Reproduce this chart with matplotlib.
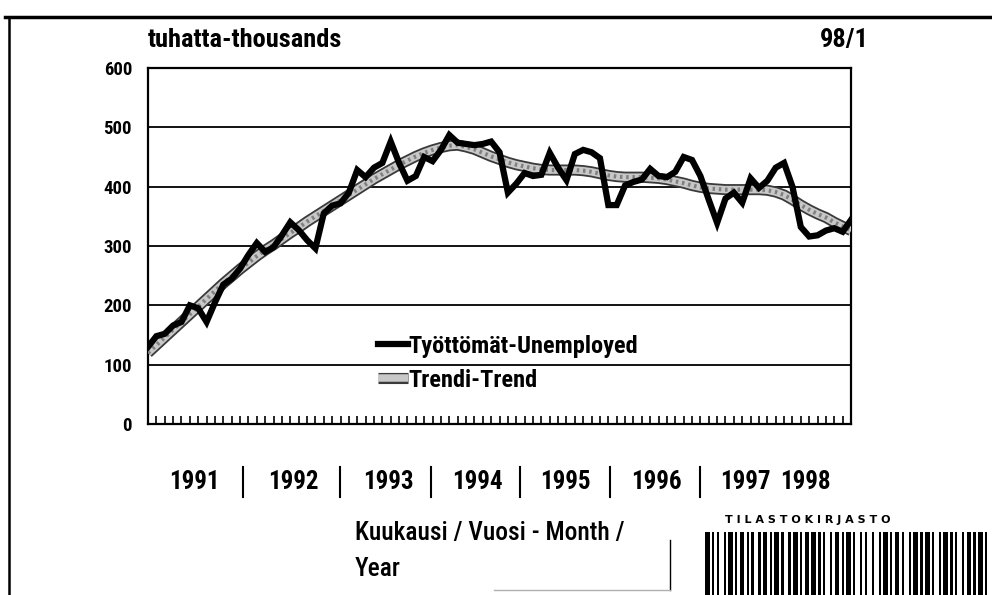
import numpy as np
import matplotlib
matplotlib.use('Agg')
import matplotlib.pyplot as plt
import matplotlib.patheffects as pe
import matplotlib.transforms as mtransforms
from matplotlib.lines import Line2D
from matplotlib import font_manager

# narrow bold face like the scanned print, fall back to DejaVu Sans
have = set(f.name for f in font_manager.fontManager.ttflist)
narrow = None
for name in ['Roboto Condensed', 'Liberation Sans Narrow', 'Archivo Narrow',
             'PT Sans Narrow', 'Open Sans Condensed']:
    if name in have:
        narrow = name
        break
if narrow:
    plt.rcParams['font.family'] = [narrow, 'DejaVu Sans']
    fs = 1.0
else:
    plt.rcParams['font.family'] = ['DejaVu Sans']
    fs = 0.8

# monthly values 1991/01 .. 1998/01, thousands
unemployed = [130, 148, 152, 166, 172, 200, 195, 172, 205, 235, 245, 262,
              285, 305, 290, 298, 318, 340, 327, 310, 296, 355, 368, 372,
              390, 428, 416, 432, 440, 476, 440, 410, 418, 450, 443, 462,
              487, 474, 472, 470, 472, 476, 458, 390, 405, 423, 418, 420,
              457, 432, 411, 455, 462, 458, 448, 369, 369, 402, 408, 412,
              430, 418, 416, 425, 450, 445, 418, 378, 339, 380, 390, 373,
              414, 398, 410, 432, 440, 400, 332, 316, 318, 326, 330, 324,
              344]
trend = [120, 133, 146, 159, 172, 185, 198, 211, 224, 237, 249, 261,
         272, 283, 293, 302, 312, 322, 331, 341, 350, 359, 368, 377,
         386, 395, 404, 413, 421, 429, 437, 444, 451, 457, 462, 466,
         469, 470, 467, 463, 457, 451, 446, 441, 437, 434, 431, 429,
         428, 428, 428, 428, 427, 425, 422, 419, 417, 416, 416, 416,
         415, 414, 412, 409, 406, 402, 399, 397, 396, 395, 395, 395,
         395, 395, 394, 391, 386, 378, 369, 361, 354, 348, 340, 333,
         326]
years = ['1991', '1992', '1993', '1994', '1995', '1996', '1997', '1998']
year_pos = [5.5, 17.4, 28.7, 39.4, 49.9, 60.7, 71.4, 78.5]
sep_pos = [11.4, 22.9, 33.8, 44.4, 55.2, 65.9]
yticks = [0, 100, 200, 300, 400, 500, 600]

months = np.arange(len(unemployed))

fig = plt.figure(figsize=(9.92, 5.95), dpi=100)
ax = fig.add_axes([0.1492, 0.2874, 0.7087, 0.5983])

trend_fx = [pe.Stroke(linewidth=8, foreground='#3a3a3a'), pe.Normal()]
ax.plot(months, trend, color='#c8c8c8', lw=5.4, solid_capstyle='butt',
        path_effects=trend_fx, label='Trendi-Trend', zorder=3)
ax.plot(months, trend, color='#808080', lw=3, ls=(0, (0.6, 0.9)), zorder=3)
ax.plot(months, unemployed, color='black', lw=4.5, solid_joinstyle='miter',
        label='Työttömät-Unemployed', zorder=4)

ax.set_xlim(0, len(unemployed) - 1)
ax.set_ylim(0, 600)
ax.set_yticks(yticks)
ax.set_yticklabels([str(v) for v in yticks], fontsize=13.5 * fs,
                   fontweight='bold')
ax.tick_params(axis='y', length=0, pad=11.5)
ax.yaxis.grid(True, color='black', lw=1.3)
ax.set_axisbelow(True)
ax.set_xticks(months)
ax.set_xticklabels([])
ax.tick_params(axis='x', direction='in', length=6, width=1.2)
for s in ax.spines.values():
    s.set_linewidth(1.6)

h, l = ax.get_legend_handles_labels()
ax.legend(h[::-1], l[::-1], loc='center left', bbox_to_anchor=(0.31, 0.171),
          frameon=False, prop={'size': 17.6 * fs, 'weight': 'bold'},
          borderpad=0, handlelength=1.2, handletextpad=0.05,
          labelspacing=0.45)

# year labels below the axis
tr = mtransforms.blended_transform_factory(ax.transData, ax.transAxes)
for y, p in zip(years, year_pos):
    ax.text(p, -0.163, y, transform=tr, ha='center', va='center',
            fontsize=18 * fs, fontweight='bold')
for p in sep_pos:
    ax.plot([p, p], [-0.121, -0.205], transform=tr, color='black', lw=1.5,
            clip_on=False)

fig.text(0.1492, 0.933, 'tuhatta-thousands', fontsize=19 * fs,
         fontweight='bold', va='center', ha='left')
fig.text(0.876, 0.933, '98/1', fontsize=19 * fs, fontweight='bold',
         va='center', ha='right')
fig.text(0.358, 0.104, 'Kuukausi / Vuosi - Month /', fontsize=18.3 * fs,
         fontweight='medium', va='center', ha='left')
fig.text(0.358, 0.044, 'Year', fontsize=18.3 * fs, fontweight='medium',
         va='center', ha='left')

# page frame
fig.add_artist(Line2D([0.005, 1.0], [0.971, 0.971], color='black', lw=2.5))
fig.add_artist(Line2D([0.009, 0.009], [0.0, 0.971], color='black', lw=1.8))
fig.add_artist(Line2D([0.675, 0.675], [0.008, 0.092], color='black', lw=1.0))
fig.add_artist(Line2D([0.498, 0.675], [0.008, 0.008], color='#b0b0b0', lw=1.0))

# library stamp with barcode
fig.text(0.814, 0.126, 'T I L A S T O K I R J A S T O', fontsize=8,
         fontweight='bold', ha='center', va='center', family='DejaVu Sans')
bar_w = [2, 1, 1, 1, 1, 2, 1, 1, 2, 1, 1, 1, 2, 1, 1, 1, 1, 2, 1, 1,
         2, 1, 1, 1, 2, 1, 1, 2, 1, 1, 2, 1, 1, 1, 2, 1, 2, 1, 1, 1,
         1, 2, 1, 1, 2, 1, 1, 1, 2, 1, 1, 2, 1, 1, 1, 2, 1, 2, 1, 1,
         2, 1, 1, 1, 2, 1, 1, 2, 1, 1, 2, 1, 1, 1, 2, 1, 1, 2, 1, 1,
         2, 1, 1, 1, 1, 2, 1, 1, 2, 1, 1, 1, 2, 1, 1, 2]
bx = fig.add_axes([705 / 992, 0.0, 287 / 992, 63 / 595])
bx.set_axis_off()
pos = 0
for k, w in enumerate(bar_w):
    if k % 2 == 0:
        bx.axvspan(pos, pos + w, color='black', lw=0)
    pos += w
bx.set_xlim(0, pos)
bx.set_ylim(0, 1)

fig.savefig('out.png', dpi=100)
